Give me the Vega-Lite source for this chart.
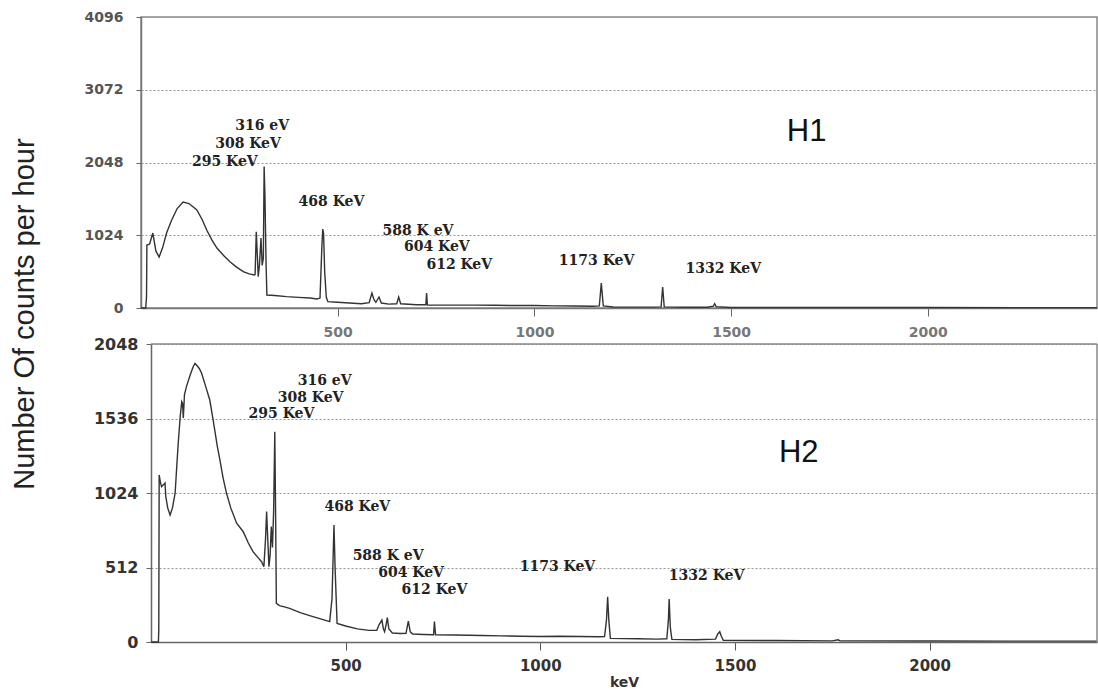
{
  "$schema": "https://vega.github.io/schema/vega-lite/v6.json",
  "autosize": {"type": "none"},
  "padding": {"left": 141, "top": 17, "right": 957, "bottom": 672},
  "background": "white",
  "bounds": "flush",
  "spacing": 36,
  "title": {"text": "Number Of counts per hour", "orient": "left", "anchor": "middle", "font": "Liberation Sans", "fontSize": 29, "fontWeight": "normal", "color": "#222", "offset": 43, "dx": 35},
  "datasets": {
    "h1": [
      {"kev": 0, "counts": 0}, {"kev": 12, "counts": 0}, {"kev": 14, "counts": 150}, {"kev": 15, "counts": 886}, {"kev": 22, "counts": 900}, {"kev": 30, "counts": 1055}, {"kev": 38, "counts": 800}, {"kev": 46, "counts": 717}, {"kev": 55, "counts": 850}, {"kev": 65, "counts": 1055}, {"kev": 78, "counts": 1238}, {"kev": 92, "counts": 1400}, {"kev": 107, "counts": 1490}, {"kev": 122, "counts": 1470}, {"kev": 142, "counts": 1379}, {"kev": 155, "counts": 1250}, {"kev": 167, "counts": 1097}, {"kev": 180, "counts": 960}, {"kev": 193, "counts": 844}, {"kev": 210, "counts": 740}, {"kev": 226, "counts": 652}, {"kev": 243, "counts": 575}, {"kev": 260, "counts": 511}, {"kev": 275, "counts": 480}, {"kev": 288, "counts": 464}, {"kev": 290, "counts": 470}, {"kev": 293, "counts": 1074}, {"kev": 296, "counts": 700}, {"kev": 298, "counts": 440}, {"kev": 301, "counts": 600}, {"kev": 305, "counts": 985}, {"kev": 308, "counts": 600}, {"kev": 311, "counts": 700}, {"kev": 313, "counts": 1990}, {"kev": 315, "counts": 1600}, {"kev": 318, "counts": 600}, {"kev": 320, "counts": 183}, {"kev": 340, "counts": 175}, {"kev": 370, "counts": 160}, {"kev": 400, "counts": 150}, {"kev": 430, "counts": 140}, {"kev": 447, "counts": 127}, {"kev": 455, "counts": 140}, {"kev": 460, "counts": 900}, {"kev": 462, "counts": 1111}, {"kev": 464, "counts": 1050}, {"kev": 467, "counts": 500}, {"kev": 471, "counts": 150}, {"kev": 475, "counts": 90}, {"kev": 500, "counts": 80}, {"kev": 530, "counts": 70}, {"kev": 560, "counts": 60}, {"kev": 580, "counts": 75}, {"kev": 587, "counts": 211}, {"kev": 592, "counts": 120}, {"kev": 597, "counts": 80}, {"kev": 605, "counts": 155}, {"kev": 611, "counts": 70}, {"kev": 630, "counts": 55}, {"kev": 650, "counts": 60}, {"kev": 655, "counts": 155}, {"kev": 660, "counts": 60}, {"kev": 700, "counts": 45}, {"kev": 724, "counts": 45}, {"kev": 726, "counts": 210}, {"kev": 728, "counts": 40}, {"kev": 780, "counts": 40}, {"kev": 850, "counts": 40}, {"kev": 900, "counts": 38}, {"kev": 950, "counts": 35}, {"kev": 1000, "counts": 35}, {"kev": 1050, "counts": 30}, {"kev": 1100, "counts": 28}, {"kev": 1150, "counts": 25}, {"kev": 1165, "counts": 30}, {"kev": 1170, "counts": 350}, {"kev": 1175, "counts": 30}, {"kev": 1200, "counts": 15}, {"kev": 1250, "counts": 12}, {"kev": 1300, "counts": 12}, {"kev": 1322, "counts": 15}, {"kev": 1326, "counts": 295}, {"kev": 1330, "counts": 15}, {"kev": 1380, "counts": 10}, {"kev": 1440, "counts": 10}, {"kev": 1455, "counts": 25}, {"kev": 1458, "counts": 60}, {"kev": 1462, "counts": 20}, {"kev": 1500, "counts": 8}, {"kev": 1700, "counts": 8}, {"kev": 2000, "counts": 6}, {"kev": 2430, "counts": 5}
    ],
    "h2": [
      {"kev": 0, "counts": 0}, {"kev": 19, "counts": 0}, {"kev": 20, "counts": 80}, {"kev": 21, "counts": 1148}, {"kev": 24, "counts": 1100}, {"kev": 27, "counts": 1067}, {"kev": 32, "counts": 1080}, {"kev": 36, "counts": 1093}, {"kev": 38, "counts": 1000}, {"kev": 43, "counts": 920}, {"kev": 49, "counts": 873}, {"kev": 55, "counts": 920}, {"kev": 62, "counts": 1024}, {"kev": 66, "counts": 1200}, {"kev": 70, "counts": 1368}, {"kev": 75, "counts": 1550}, {"kev": 79, "counts": 1652}, {"kev": 81, "counts": 1640}, {"kev": 83, "counts": 1540}, {"kev": 86, "counts": 1700}, {"kev": 91, "counts": 1755}, {"kev": 100, "counts": 1830}, {"kev": 108, "counts": 1890}, {"kev": 113, "counts": 1915}, {"kev": 118, "counts": 1900}, {"kev": 124, "counts": 1880}, {"kev": 130, "counts": 1847}, {"kev": 140, "counts": 1760}, {"kev": 151, "counts": 1663}, {"kev": 160, "counts": 1520}, {"kev": 170, "counts": 1350}, {"kev": 177, "counts": 1251}, {"kev": 185, "counts": 1130}, {"kev": 194, "counts": 1022}, {"kev": 205, "counts": 920}, {"kev": 220, "counts": 816}, {"kev": 237, "counts": 758}, {"kev": 250, "counts": 680}, {"kev": 262, "counts": 621}, {"kev": 275, "counts": 580}, {"kev": 284, "counts": 552}, {"kev": 290, "counts": 518}, {"kev": 294, "counts": 700}, {"kev": 297, "counts": 896}, {"kev": 300, "counts": 700}, {"kev": 303, "counts": 518}, {"kev": 306, "counts": 600}, {"kev": 309, "counts": 793}, {"kev": 312, "counts": 650}, {"kev": 315, "counts": 900}, {"kev": 318, "counts": 1445}, {"kev": 320, "counts": 900}, {"kev": 322, "counts": 266}, {"kev": 330, "counts": 250}, {"kev": 345, "counts": 240}, {"kev": 356, "counts": 231}, {"kev": 385, "counts": 200}, {"kev": 416, "counts": 174}, {"kev": 440, "counts": 155}, {"kev": 459, "counts": 140}, {"kev": 465, "counts": 300}, {"kev": 470, "counts": 804}, {"kev": 473, "counts": 500}, {"kev": 478, "counts": 128}, {"kev": 500, "counts": 110}, {"kev": 530, "counts": 90}, {"kev": 560, "counts": 80}, {"kev": 580, "counts": 80}, {"kev": 586, "counts": 120}, {"kev": 593, "counts": 151}, {"kev": 597, "counts": 90}, {"kev": 600, "counts": 71}, {"kev": 604, "counts": 120}, {"kev": 607, "counts": 167}, {"kev": 611, "counts": 90}, {"kev": 620, "counts": 62}, {"kev": 640, "counts": 58}, {"kev": 655, "counts": 60}, {"kev": 661, "counts": 144}, {"kev": 666, "counts": 70}, {"kev": 672, "counts": 55}, {"kev": 700, "counts": 52}, {"kev": 726, "counts": 50}, {"kev": 728, "counts": 140}, {"kev": 731, "counts": 50}, {"kev": 780, "counts": 48}, {"kev": 850, "counts": 45}, {"kev": 900, "counts": 42}, {"kev": 950, "counts": 40}, {"kev": 1000, "counts": 38}, {"kev": 1050, "counts": 40}, {"kev": 1100, "counts": 38}, {"kev": 1150, "counts": 36}, {"kev": 1165, "counts": 38}, {"kev": 1170, "counts": 150}, {"kev": 1173, "counts": 311}, {"kev": 1176, "counts": 150}, {"kev": 1180, "counts": 25}, {"kev": 1250, "counts": 22}, {"kev": 1300, "counts": 20}, {"kev": 1325, "counts": 22}, {"kev": 1329, "counts": 150}, {"kev": 1331, "counts": 295}, {"kev": 1334, "counts": 100}, {"kev": 1338, "counts": 18}, {"kev": 1400, "counts": 15}, {"kev": 1450, "counts": 20}, {"kev": 1456, "counts": 55}, {"kev": 1461, "counts": 71}, {"kev": 1465, "counts": 40}, {"kev": 1470, "counts": 12}, {"kev": 1600, "counts": 10}, {"kev": 1750, "counts": 8}, {"kev": 1765, "counts": 15}, {"kev": 1770, "counts": 8}, {"kev": 2000, "counts": 7}, {"kev": 2200, "counts": 6}, {"kev": 2430, "counts": 6}
    ],
    "a1": [
      {"kev": 308, "counts": 2561, "label": "316 eV"},
      {"kev": 272, "counts": 2307, "label": "308 KeV"},
      {"kev": 213, "counts": 2054, "label": "295 KeV"},
      {"kev": 484, "counts": 1496, "label": "468 KeV"},
      {"kev": 704, "counts": 1088, "label": "588 K eV"},
      {"kev": 752, "counts": 858, "label": "604 KeV"},
      {"kev": 809, "counts": 605, "label": "612 KeV"},
      {"kev": 1158, "counts": 666, "label": "1173 KeV"},
      {"kev": 1480, "counts": 549, "label": "1332 KeV"}
    ],
    "a2": [
      {"kev": 446, "counts": 1792, "label": "316 eV"},
      {"kev": 410, "counts": 1677, "label": "308 KeV"},
      {"kev": 335, "counts": 1568, "label": "295 KeV"},
      {"kev": 530, "counts": 928, "label": "468 KeV"},
      {"kev": 609, "counts": 590, "label": "588 K eV"},
      {"kev": 668, "counts": 474, "label": "604 KeV"},
      {"kev": 728, "counts": 360, "label": "612 KeV"},
      {"kev": 1044, "counts": 515, "label": "1173 KeV"},
      {"kev": 1427, "counts": 454, "label": "1332 KeV"}
    ],
    "p1": [{"kev": 1692, "counts": 2483, "label": "H1"}],
    "p2": [{"kev": 1664, "counts": 1299, "label": "H2"}]
  },
  "vconcat": [
    {
      "width": 956,
      "height": 291,
      "view": {"stroke": "#888", "strokeWidth": 1.5},
      "layer": [
        {
          "data": {"name": "h1"},
          "mark": {"type": "line", "color": "#333", "strokeWidth": 1.4},
          "encoding": {
            "x": {"field": "kev", "type": "quantitative", "scale": {"domain": [0, 2430], "nice": false, "zero": false},
              "axis": {"values": [500, 1000, 1500, 2000], "format": "d", "title": null, "grid": false, "labelFont": "DejaVu Sans", "labelFontWeight": "bold", "labelFontSize": 14, "labelColor": "#777", "labelPadding": 9, "tickSize": 8, "tickColor": "#666", "domainColor": "#777", "domainWidth": 1.5}},
            "y": {"field": "counts", "type": "quantitative", "scale": {"domain": [0, 4096], "nice": false},
              "axis": {"values": [0, 1024, 2048, 3072, 4096], "format": "d", "title": null, "grid": true, "gridDash": [2, 2], "gridColor": "#999", "labelFont": "DejaVu Sans", "labelFontWeight": "bold", "labelFontSize": 14, "labelColor": "#555", "labelPadding": 13, "tickSize": 5, "tickColor": "#666", "domainColor": "#777", "domainWidth": 1.5}}
          }
        },
        {
          "data": {"name": "a1"},
          "mark": {"type": "text", "font": "DejaVu Serif", "fontWeight": "bold", "fontSize": 14, "color": "#222", "baseline": "middle", "align": "center"},
          "encoding": {
            "x": {"field": "kev", "type": "quantitative"},
            "y": {"field": "counts", "type": "quantitative"},
            "text": {"field": "label"}
          }
        },
        {
          "data": {"name": "p1"},
          "mark": {"type": "text", "font": "Liberation Sans", "fontSize": 31, "color": "#111", "baseline": "middle", "align": "center"},
          "encoding": {
            "x": {"field": "kev", "type": "quantitative"},
            "y": {"field": "counts", "type": "quantitative"},
            "text": {"field": "label"}
          }
        }
      ]
    },
    {
      "width": 956,
      "height": 298,
      "view": {"stroke": null},
      "layer": [
        {
          "data": {"name": "h2"},
          "mark": {"type": "line", "color": "#333", "strokeWidth": 1.4},
          "encoding": {
            "x": {"field": "kev", "type": "quantitative", "scale": {"domain": [0, 2430], "nice": false, "zero": false, "range": [10, 956]},
              "axis": {"values": [500, 1000, 1500, 2000], "format": "d", "title": "keV", "titleFont": "DejaVu Sans", "titleFontWeight": "bold", "titleFontSize": 14, "titleColor": "#333", "titlePadding": 2, "grid": false, "labelFont": "DejaVu Sans", "labelFontWeight": "bold", "labelFontSize": 15, "labelColor": "#333", "labelPadding": 8, "tickSize": 8, "tickColor": "#555", "domainColor": "#666", "domainWidth": 1.5}},
            "y": {"field": "counts", "type": "quantitative", "scale": {"domain": [0, 2048], "nice": false},
              "axis": {"values": [0, 512, 1024, 1536, 2048], "format": "d", "title": null, "offset": -10, "grid": true, "gridDash": [2, 2], "gridColor": "#999", "labelFont": "DejaVu Sans", "labelFontWeight": "bold", "labelFontSize": 16, "labelColor": "#333", "labelPadding": 8, "tickSize": 5, "tickColor": "#666", "domainColor": "#666", "domainWidth": 1.5}}
          }
        },
        {
          "data": {"values": [{"a": 1}]},
          "mark": {"type": "rule", "color": "#888", "strokeWidth": 1.5},
          "encoding": {"x": {"datum": 0}, "x2": {"datum": 2430}, "y": {"datum": 2048}}
        },
        {
          "data": {"values": [{"a": 1}]},
          "mark": {"type": "rule", "color": "#888", "strokeWidth": 1.5},
          "encoding": {"x": {"datum": 2430}, "y": {"datum": 0}, "y2": {"datum": 2048}}
        },
        {
          "data": {"name": "a2"},
          "mark": {"type": "text", "font": "DejaVu Serif", "fontWeight": "bold", "fontSize": 14, "color": "#222", "baseline": "middle", "align": "center"},
          "encoding": {
            "x": {"field": "kev", "type": "quantitative"},
            "y": {"field": "counts", "type": "quantitative"},
            "text": {"field": "label"}
          }
        },
        {
          "data": {"name": "p2"},
          "mark": {"type": "text", "font": "Liberation Sans", "fontSize": 31, "color": "#111", "baseline": "middle", "align": "center"},
          "encoding": {
            "x": {"field": "kev", "type": "quantitative"},
            "y": {"field": "counts", "type": "quantitative"},
            "text": {"field": "label"}
          }
        }
      ]
    }
  ]
}
